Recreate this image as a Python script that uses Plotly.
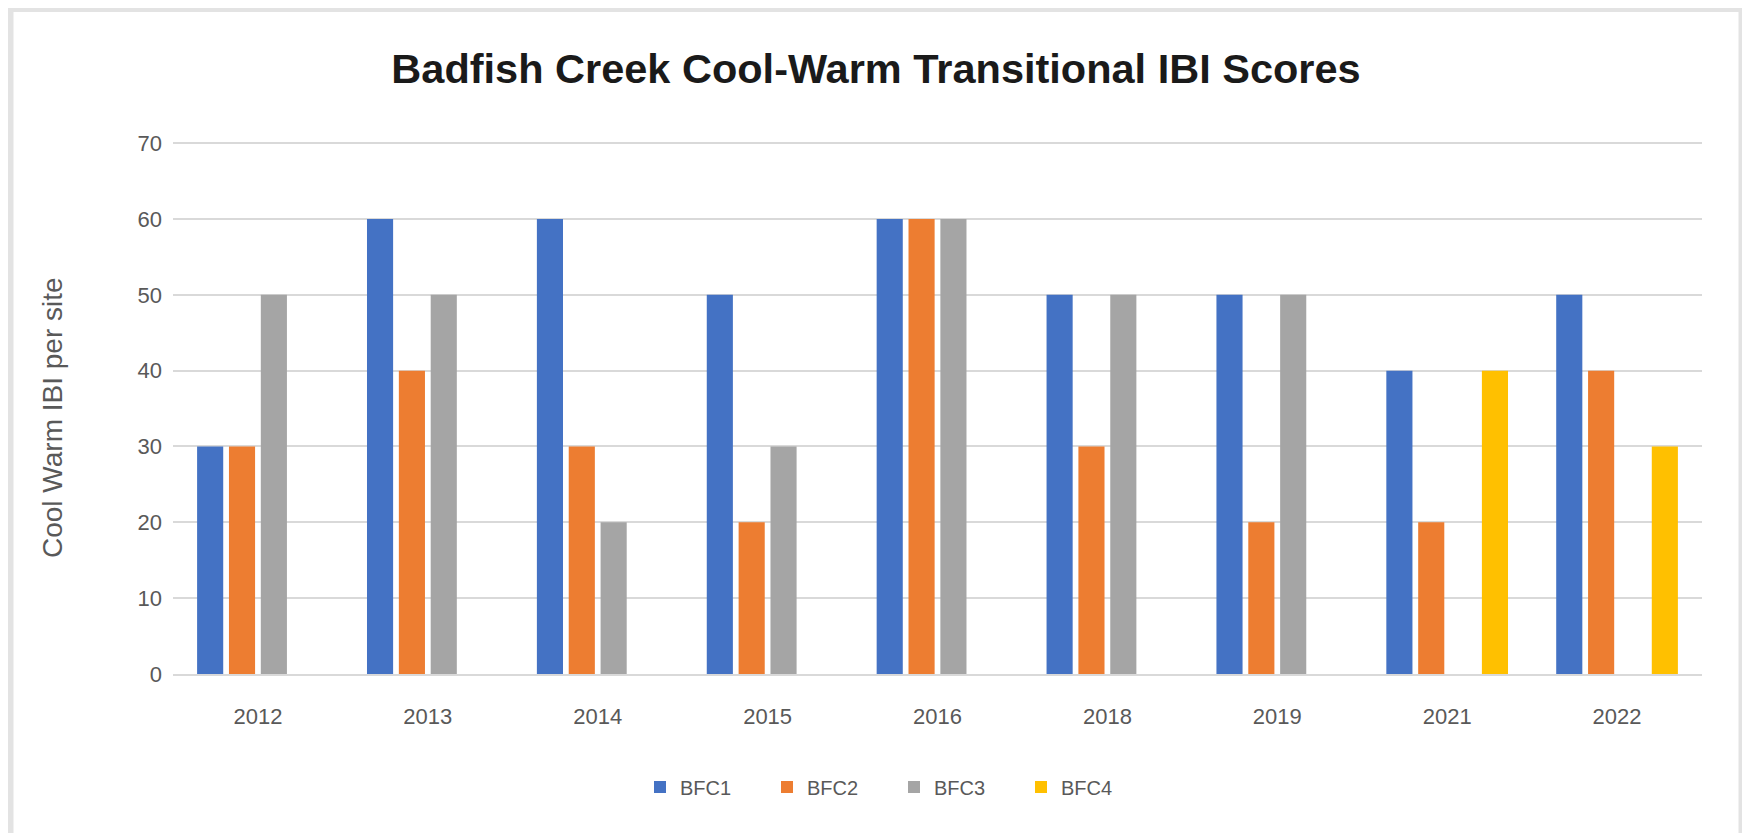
import plotly.graph_objects as go

years = ["2012", "2013", "2014", "2015", "2016", "2018", "2019", "2021", "2022"]
bfc1 = [30, 60, 60, 50, 60, 50, 50, 40, 50]
bfc2 = [30, 40, 30, 20, 60, 30, 20, 20, 40]
bfc3 = [50, 50, 20, 30, 60, 50, 50, None, None]
bfc4 = [None, None, None, None, None, None, None, 40, 30]
series_names = ["BFC1", "BFC2", "BFC3", "BFC4"]
colors = ["#4472C4", "#ED7D31", "#A5A5A5", "#FFC000"]
y_ticks = [0, 10, 20, 30, 40, 50, 60, 70]

W, H = 1750, 833
OFF = 8  # page body margin offset
L, R, T, B = 173 - OFF, 1702 - OFF, 142 - OFF, 674 - OFF
pw, ph = R - L, B - T

def px_x(v):
    return (v - OFF - L) / pw

def px_y(v):
    return (B - (v - OFF)) / ph

font_family = "Liberation Sans, Arial, sans-serif"
grey_text = "#595959"

fig = go.Figure()
for name, vals, col in zip(series_names, [bfc1, bfc2, bfc3, bfc4], colors):
    fig.add_trace(go.Bar(x=years, y=vals, name=name, marker_color=col,
                         marker_line_width=0))

fig.update_layout(
    width=W, height=H,
    margin=dict(l=L, r=W - R, t=T, b=H - B, autoexpand=False),
    paper_bgcolor="white", plot_bgcolor="white",
    barmode="group", bargap=0.25, bargroupgap=0.18,
    title=dict(text="<b>Badfish Creek Cool-Warm Transitional IBI Scores</b>",
               x=(876 - OFF) / W, xref="container", xanchor="center",
               y=1 - (68 - OFF) / H, yref="container", yanchor="middle",
               font=dict(family=font_family, size=41.5, color="#1a1a1a")),
    font=dict(family=font_family, size=22, color=grey_text),
    showlegend=True,
    legend=dict(orientation="h", x=px_x(894), xanchor="center",
                y=px_y(787), yanchor="middle",
                font=dict(size=20, color=grey_text),
                entrywidth=82, entrywidthmode="pixels",
                itemwidth=30, traceorder="normal"),
    xaxis=dict(showgrid=False, showline=True, linecolor="#D9D9D9",
               linewidth=2, ticks="",
               tickfont=dict(size=22, color=grey_text),
               ticklabelstandoff=22),
    yaxis=dict(range=[0, 70.15], tickvals=y_ticks, showgrid=True,
               gridcolor="#D9D9D9", gridwidth=2, zeroline=False,
               showline=False, ticks="",
               tickfont=dict(size=22, color=grey_text),
               ticklabelstandoff=10),
)

fig.add_annotation(text="Cool Warm IBI per site", textangle=-90,
                   xref="paper", yref="paper", x=px_x(52), y=px_y(418),
                   showarrow=False, xanchor="center", yanchor="middle",
                   font=dict(size=28, color=grey_text, family=font_family))

fig.add_shape(type="rect", xref="paper", yref="paper",
              x0=px_x(10.5), x1=px_x(1741.5), y0=px_y(860), y1=px_y(9),
              line=dict(color="#E3E3E3", width=6), fillcolor="rgba(0,0,0,0)",
              layer="below")

fig.write_html("out.html")
